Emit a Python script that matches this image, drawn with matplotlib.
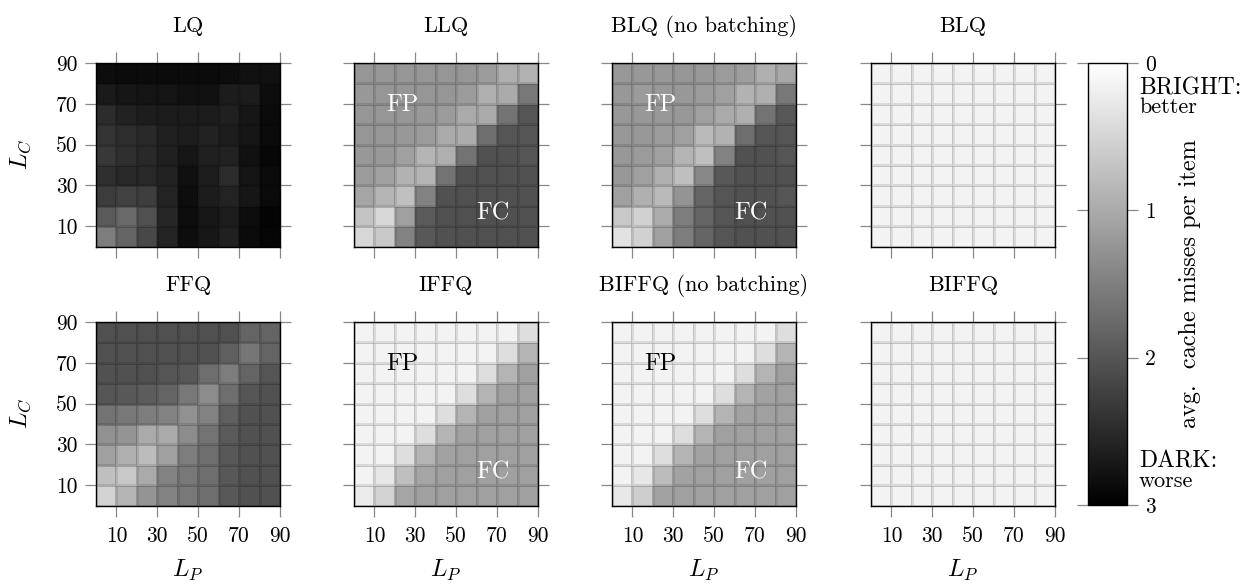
import numpy as np
import matplotlib
matplotlib.use("Agg")
import matplotlib.pyplot as plt

plt.rcParams['font.family'] = ['cmr10', 'DejaVu Serif']
plt.rcParams['mathtext.fontset'] = 'cm'
plt.rcParams['axes.formatter.use_mathtext'] = True

# cell edges along L_P and L_C
edges = [0, 10, 20, 30, 40, 50, 60, 70, 80, 90]
ticks = [10, 30, 50, 70, 90]

# avg. cache misses per item, rows listed from L_C = 90 (top) down to L_C = 0
lq = [[2.84, 2.86, 2.86, 2.86, 2.86, 2.86, 2.84, 2.79, 2.79],
      [2.69, 2.74, 2.76, 2.76, 2.79, 2.79, 2.67, 2.67, 2.84],
      [2.48, 2.60, 2.65, 2.67, 2.67, 2.67, 2.62, 2.74, 2.88],
      [2.39, 2.46, 2.51, 2.62, 2.65, 2.60, 2.65, 2.74, 2.86],
      [2.34, 2.44, 2.51, 2.62, 2.74, 2.62, 2.60, 2.79, 2.91],
      [2.44, 2.53, 2.53, 2.60, 2.81, 2.65, 2.48, 2.76, 2.88],
      [2.29, 2.22, 2.27, 2.58, 2.84, 2.67, 2.58, 2.74, 2.88],
      [1.94, 1.76, 2.06, 2.55, 2.84, 2.72, 2.65, 2.84, 2.95],
      [1.53, 1.82, 2.15, 2.58, 2.84, 2.72, 2.62, 2.86, 2.93]]

llq = [[1.24, 1.24, 1.24, 1.24, 1.24, 1.24, 1.18, 0.94, 0.91],
       [1.21, 1.24, 1.24, 1.24, 1.24, 1.18, 0.94, 1.00, 1.59],
       [1.24, 1.24, 1.24, 1.21, 1.18, 1.00, 1.00, 1.65, 2.00],
       [1.24, 1.24, 1.21, 1.18, 1.00, 0.98, 1.71, 2.00, 2.00],
       [1.21, 1.21, 1.12, 0.88, 0.94, 1.65, 2.04, 2.04, 2.00],
       [1.18, 1.12, 0.91, 0.88, 1.65, 2.04, 2.06, 2.04, 2.04],
       [1.06, 0.88, 0.74, 1.47, 2.04, 2.06, 2.06, 2.06, 2.04],
       [0.71, 0.47, 1.12, 1.94, 2.06, 2.06, 2.06, 2.06, 2.04],
       [0.47, 0.65, 1.47, 1.96, 2.04, 2.06, 2.06, 2.06, 2.04]]

blq_nb = [[1.21, 1.21, 1.21, 1.24, 1.21, 1.18, 1.14, 0.94, 1.02],
          [1.21, 1.18, 1.21, 1.21, 1.18, 1.12, 0.91, 0.94, 1.59],
          [1.21, 1.21, 1.21, 1.21, 1.12, 1.00, 0.94, 1.65, 1.96],
          [1.21, 1.21, 1.18, 1.12, 0.82, 0.91, 1.71, 2.00, 2.00],
          [1.21, 1.18, 1.12, 0.88, 0.76, 1.47, 2.04, 2.04, 2.00],
          [1.21, 1.12, 0.94, 0.76, 1.41, 1.96, 2.04, 2.04, 2.04],
          [1.12, 0.94, 0.82, 1.26, 1.82, 2.00, 2.04, 2.04, 2.00],
          [0.65, 0.55, 0.98, 1.53, 1.82, 2.00, 2.06, 2.04, 2.04],
          [0.35, 0.55, 1.12, 1.53, 1.82, 2.00, 2.04, 2.04, 2.04]]

blq = [[0.15, 0.15, 0.15, 0.15, 0.15, 0.15, 0.15, 0.15, 0.15],
       [0.15, 0.15, 0.15, 0.15, 0.15, 0.15, 0.15, 0.15, 0.15],
       [0.15, 0.15, 0.15, 0.15, 0.15, 0.15, 0.15, 0.15, 0.15],
       [0.15, 0.15, 0.15, 0.15, 0.15, 0.15, 0.15, 0.15, 0.15],
       [0.15, 0.15, 0.15, 0.15, 0.15, 0.15, 0.15, 0.15, 0.15],
       [0.15, 0.15, 0.15, 0.15, 0.15, 0.15, 0.15, 0.15, 0.15],
       [0.15, 0.15, 0.15, 0.15, 0.15, 0.15, 0.15, 0.15, 0.15],
       [0.15, 0.15, 0.15, 0.15, 0.15, 0.15, 0.15, 0.15, 0.15],
       [0.15, 0.15, 0.15, 0.15, 0.15, 0.15, 0.15, 0.15, 0.15]]

ffq = [[2.06, 2.06, 2.06, 2.06, 2.06, 2.06, 2.06, 1.82, 1.82],
       [2.06, 2.06, 2.06, 2.06, 2.06, 2.04, 1.88, 1.61, 1.82],
       [2.04, 2.06, 2.06, 2.00, 1.96, 1.71, 1.53, 1.82, 2.00],
       [2.00, 1.96, 1.92, 1.82, 1.59, 1.35, 1.71, 2.00, 2.04],
       [1.65, 1.59, 1.53, 1.47, 1.29, 1.47, 1.88, 2.04, 2.04],
       [1.29, 1.26, 1.00, 1.00, 1.35, 1.65, 1.94, 2.04, 2.04],
       [1.12, 0.94, 0.79, 1.12, 1.53, 1.71, 1.96, 2.04, 2.04],
       [0.76, 0.65, 1.00, 1.47, 1.59, 1.71, 1.96, 2.04, 2.04],
       [0.53, 0.88, 1.26, 1.47, 1.59, 1.71, 1.96, 2.04, 2.04]]

iffq = [[0.15, 0.15, 0.15, 0.15, 0.15, 0.15, 0.15, 0.15, 0.39],
        [0.15, 0.15, 0.15, 0.15, 0.15, 0.15, 0.15, 0.39, 0.88],
        [0.15, 0.15, 0.15, 0.15, 0.15, 0.15, 0.39, 0.88, 1.12],
        [0.15, 0.15, 0.15, 0.15, 0.15, 0.39, 0.88, 1.12, 1.12],
        [0.15, 0.15, 0.15, 0.15, 0.39, 0.88, 1.12, 1.12, 1.12],
        [0.15, 0.15, 0.15, 0.39, 0.88, 1.09, 1.12, 1.12, 1.12],
        [0.15, 0.15, 0.39, 0.88, 1.09, 1.12, 1.12, 1.12, 1.12],
        [0.15, 0.29, 0.76, 1.06, 1.12, 1.12, 1.12, 1.12, 1.12],
        [0.24, 0.53, 1.06, 1.12, 1.12, 1.12, 1.12, 1.12, 1.12]]

biffq_nb = [[0.15, 0.15, 0.15, 0.15, 0.15, 0.15, 0.15, 0.15, 0.39],
            [0.15, 0.15, 0.15, 0.15, 0.15, 0.15, 0.15, 0.39, 0.88],
            [0.15, 0.15, 0.15, 0.15, 0.15, 0.15, 0.39, 0.88, 1.12],
            [0.15, 0.15, 0.15, 0.15, 0.15, 0.39, 0.88, 1.09, 1.12],
            [0.15, 0.15, 0.15, 0.15, 0.39, 0.88, 1.09, 1.12, 1.12],
            [0.15, 0.15, 0.15, 0.39, 0.88, 1.12, 1.12, 1.12, 1.12],
            [0.15, 0.15, 0.39, 0.88, 1.09, 1.12, 1.12, 1.12, 1.12],
            [0.15, 0.29, 0.79, 1.09, 1.12, 1.12, 1.12, 1.12, 1.12],
            [0.27, 0.59, 1.09, 1.12, 1.12, 1.12, 1.12, 1.12, 1.12]]

biffq = [[0.15, 0.15, 0.15, 0.15, 0.15, 0.15, 0.15, 0.15, 0.15],
         [0.15, 0.15, 0.15, 0.15, 0.15, 0.15, 0.15, 0.15, 0.15],
         [0.15, 0.15, 0.15, 0.15, 0.15, 0.15, 0.15, 0.15, 0.15],
         [0.15, 0.15, 0.15, 0.15, 0.15, 0.15, 0.15, 0.15, 0.15],
         [0.15, 0.15, 0.15, 0.15, 0.15, 0.15, 0.15, 0.15, 0.15],
         [0.15, 0.15, 0.15, 0.15, 0.15, 0.15, 0.15, 0.15, 0.15],
         [0.15, 0.15, 0.15, 0.15, 0.15, 0.15, 0.15, 0.15, 0.15],
         [0.15, 0.15, 0.15, 0.15, 0.15, 0.15, 0.15, 0.15, 0.15],
         [0.15, 0.15, 0.15, 0.15, 0.15, 0.15, 0.15, 0.15, 0.15]]

titles = ["LQ", "LLQ", "BLQ (no batching)", "BLQ",
          "FFQ", "IFFQ", "BIFFQ (no batching)", "BIFFQ"]
grids = [lq, llq, blq_nb, blq, ffq, iffq, biffq_nb, biffq]
# FP / FC label colours per panel (None = no labels)
fp_col = [None, "white", "white", None, None, "black", "black", None]
fc_col = [None, "white", "white", None, None, "white", "white", None]

fs = 15.5
fig = plt.figure(figsize=(12.59, 5.87), dpi=100)

lefts = [96, 354, 612, 871]
tops = [63, 322]
W, H = 1259.0, 587.0
pw, ph = 184, 183.5

mesh = None
for k in range(8):
    r, c = divmod(k, 4)
    ax = fig.add_axes([lefts[c] / W, 1 - (tops[r] + ph) / H, pw / W, ph / H])
    z = np.array(grids[k])[::-1]
    mesh = ax.pcolormesh(edges, edges, z, cmap="gray_r", vmin=0, vmax=3,
                         edgecolors=(0, 0, 0, 0.1), linewidth=1.0)
    ax.set_xlim(0, 90)
    ax.set_ylim(0, 90)
    ax.set_xticks(ticks)
    ax.set_yticks(ticks)
    ax.set_xticklabels([str(t) for t in ticks])
    ax.set_yticklabels([str(t) for t in ticks])
    ax.tick_params(direction="out", length=8, width=0.9, color="#888888",
                   top=True, right=True, labelsize=fs,
                   labelbottom=(r == 1), labelleft=(c == 0))
    ax.tick_params(axis="x", pad=7)
    ax.tick_params(axis="y", pad=5)
    for s in ax.spines.values():
        s.set_linewidth(1.0)
        s.set_color("black")
    ax.set_title(titles[k], fontsize=16, pad=22)
    if c == 0:
        ax.set_ylabel(r"$L_C$", fontsize=17.5, labelpad=17)
    if r == 1:
        ax.set_xlabel(r"$L_P$", fontsize=17.5, labelpad=9)
    if fp_col[k]:
        ax.text(23.5, 69.5, "FP", color=fp_col[k], fontsize=17.5,
                ha="center", va="center")
        ax.text(68, 16, "FC", color=fc_col[k], fontsize=17.5,
                ha="center", va="center")

cax = fig.add_axes([1088 / W, 1 - 505 / H, 39 / W, 442 / H])
cb = fig.colorbar(mesh, cax=cax)
cb.set_ticks([0, 1, 2, 3])
cb.set_ticklabels(["0", "1", "2", "3"])
cax.invert_yaxis()
cax.tick_params(direction="out", length=8, width=0.9, color="#888888",
                left=True, right=True, labelsize=fs, pad=5)
cb.outline.set_linewidth(1.0)
cb.outline.set_edgecolor("black")

fig.text(1139 / W, 1 - 88 / H, "BRIGHT:", fontsize=17, ha="left", va="center")
fig.text(1139 / W, 1 - 107 / H, "better", fontsize=16, ha="left", va="center")
fig.text(1139 / W, 1 - 461 / H, "DARK:", fontsize=17, ha="left", va="center")
fig.text(1139 / W, 1 - 481 / H, "worse", fontsize=16, ha="left", va="center")
fig.text(1190 / W, 1 - 284 / H, "avg.  cache misses per item", fontsize=17.5,
         rotation=90, ha="center", va="center")

fig.savefig("out.png", dpi=100)
